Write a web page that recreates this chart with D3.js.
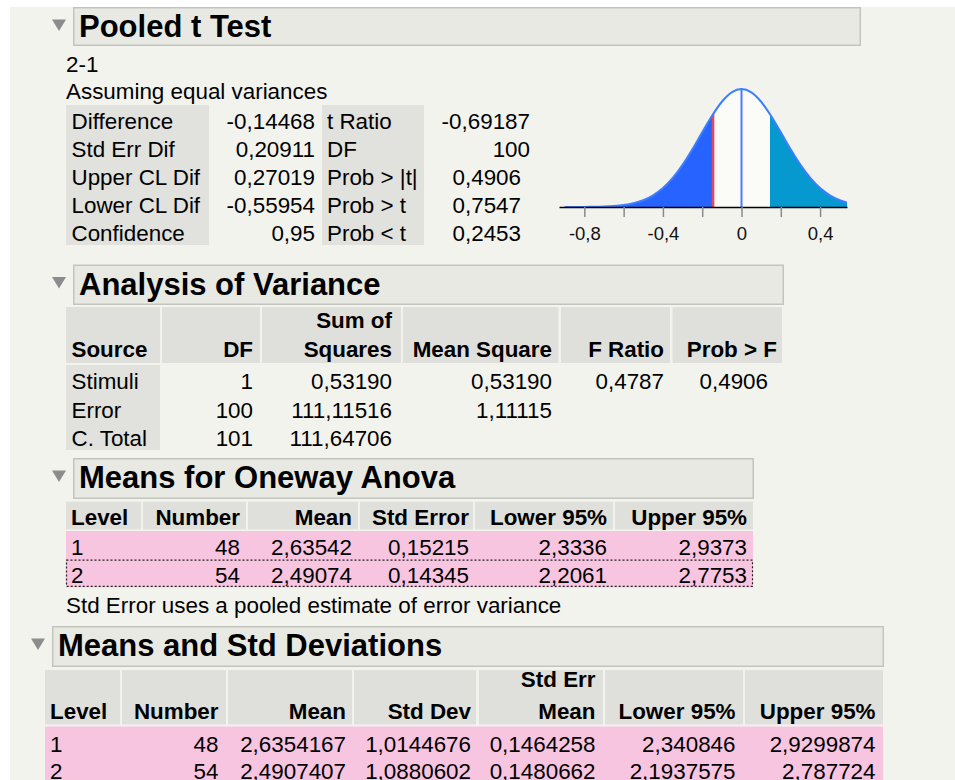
<!DOCTYPE html>
<html lang="en">
  <head>
    <meta charset="UTF-8" />
    <title>Oneway Analysis</title>
    <style>
      body { margin: 0; background: #f3f3ee; }
      svg { display: block; font-family: "Liberation Sans", Arial, Helvetica, sans-serif; }
    </style>
  </head>
  <body>
    <svg id="svg" width="955" height="780"></svg>

    <script src="https://cdn.jsdelivr.net/npm/d3@7"></script>
    <script>
      // ---- data (values as printed by JMP, comma decimals) ----
      const tTestLabels = ["Difference", "Std Err Dif", "Upper CL Dif", "Lower CL Dif", "Confidence"];
      const tTestValues = ["-0,14468", "0,20911", "0,27019", "-0,55954", "0,95"];
      const tStatLabels = ["t Ratio", "DF", "Prob > |t|", "Prob > t", "Prob < t"];
      const tStatValues = ["-0,69187", "100", "0,4906", "0,7547", "0,2453"];
      const tStatIsP = [false, false, true, true, true];
      const meanDiff = -0.14468;

      // density curve (relative height, 1 = peak)
      const densityX = [-0.9, -0.85, -0.8, -0.75, -0.7, -0.65, -0.6, -0.55, -0.5, -0.45,
        -0.4, -0.35, -0.3, -0.25, -0.2, -0.15, -0.1, -0.05, 0, 0.05,
        0.1, 0.15, 0.2, 0.25, 0.3, 0.35, 0.4, 0.45, 0.5, 0.55];
      const densityY = [0.0001, 0.0003, 0.0007, 0.0016, 0.0037, 0.008, 0.016, 0.031, 0.057, 0.099,
        0.16, 0.246, 0.357, 0.489, 0.633, 0.773, 0.892, 0.972, 1, 0.972,
        0.892, 0.773, 0.633, 0.489, 0.357, 0.246, 0.16, 0.099, 0.057, 0.031];
      const axisTicks = [-0.8, -0.6, -0.4, -0.2, 0, 0.2, 0.4];
      const axisLabels = ["-0,8", "", "-0,4", "", "0", "", "0,4"];

      const anovaColumns = ["Source", "DF", "Sum of\nSquares", "Mean Square", "F Ratio", "Prob > F"];
      const anovaRows = [
        ["Stimuli", "1", "0,53190", "0,53190", "0,4787", "0,4906"],
        ["Error", "100", "111,11516", "1,11115", "", ""],
        ["C. Total", "101", "111,64706", "", "", ""],
      ];

      const onewayColumns = ["Level", "Number", "Mean", "Std Error", "Lower 95%", "Upper 95%"];
      const onewayRows = [
        ["1", "48", "2,63542", "0,15215", "2,3336", "2,9373"],
        ["2", "54", "2,49074", "0,14345", "2,2061", "2,7753"],
      ];
      const onewayNote = "Std Error uses a pooled estimate of error variance";

      const sdColumns = ["Level", "Number", "Mean", "Std Dev", "Std Err\nMean", "Lower 95%", "Upper 95%"];
      const sdRows = [
        ["1", "48", "2,6354167", "1,0144676", "0,1464258", "2,340846", "2,9299874"],
        ["2", "54", "2,4907407", "1,0880602", "0,1480662", "2,1937575", "2,787724"],
      ];

      // ---- style ----
      const FS = 22.4;
      const P_PAD = 9;
      const GRAY_HEAD = "#dfdfdb";
      const GRAY_LABEL = "#e1e1dd";
      const PINK = "#f8c5e1";

      const svg = d3.select("#svg");
      svg.append("rect").attr("width", 955).attr("height", 780).attr("fill", "#f3f3ee");
      svg.append("rect").attr("width", 955).attr("height", 7).attr("fill", "#ffffff");
      svg.append("rect").attr("width", 10).attr("height", 780).attr("fill", "#ffffff");

      // outline headers
      const sections = [
        { title: "Pooled t Test", x0: 73, x1: 861, y0: 7, y1: 46, tx: 79, tri: 52 },
        { title: "Analysis of Variance", x0: 73, x1: 784, y0: 264.5, y1: 305, tx: 79, tri: 52 },
        { title: "Means for Oneway Anova", x0: 73, x1: 754, y0: 458, y1: 499, tx: 79, tri: 52 },
        { title: "Means and Std Deviations", x0: 52, x1: 884, y0: 626, y1: 667, tx: 58, tri: 31 },
      ];
      const secG = svg.append("g").selectAll("g").data(sections).join("g");
      secG.append("rect")
        .attr("x", (d) => d.x0 + 0.75).attr("y", (d) => d.y0 + 0.75)
        .attr("width", (d) => d.x1 - d.x0 - 1.5).attr("height", (d) => d.y1 - d.y0 - 1.5)
        .attr("fill", "#e9e9e4").attr("stroke", "#c4c4bf").attr("stroke-width", 1.5);
      secG.append("path")
        .attr("d", (d) => {
          const t = d.y0 + 12.5;
          return `M${d.tri},${t}L${d.tri + 14},${t}L${d.tri + 7},${t + 11.5}Z`;
        })
        .attr("fill", "#8c8c8c");
      secG.append("text")
        .attr("x", (d) => d.tx).attr("y", (d) => d.y0 + 30)
        .attr("font-size", 31).attr("font-weight", "bold").attr("fill", "#000")
        .text((d) => d.title);

      // ---- pooled t test block ----
      const tG = svg.append("g");
      tG.append("text").attr("x", 66).attr("y", 71.7).attr("font-size", FS).text("2-1");
      tG.append("text").attr("x", 66).attr("y", 99.3).attr("font-size", FS).text("Assuming equal variances");
      const tRow = d3.scaleBand().domain(d3.range(tTestLabels.length)).range([105, 245]);
      tG.append("rect").attr("x", 66).attr("y", 105).attr("width", 143).attr("height", 140).attr("fill", GRAY_LABEL);
      tG.append("rect").attr("x", 322).attr("y", 105).attr("width", 102).attr("height", 140).attr("fill", GRAY_LABEL);
      const tCols = [
        { vals: tTestLabels, x: 71.5, anchor: "start", p: tTestLabels.map(() => false) },
        { vals: tTestValues, x: 315, anchor: "end", p: tTestValues.map(() => false) },
        { vals: tStatLabels, x: 327, anchor: "start", p: tStatLabels.map(() => false) },
        { vals: tStatValues, x: 530, anchor: "end", p: tStatIsP },
      ];
      tCols.forEach((c) => {
        tG.append("g").selectAll("text").data(c.vals).join("text")
          .attr("x", (d, i) => c.x - (c.p[i] ? P_PAD : 0))
          .attr("y", (d, i) => tRow(i) + 24.3)
          .attr("text-anchor", c.anchor).attr("font-size", FS).text((d) => d);
      });

      // ---- density plot ----
      const x = d3.scaleLinear().domain([-0.929, 0.537]).range([559, 847]);
      const y = d3.scaleLinear().domain([0, 1]).range([207, 89]);
      const pts = densityX.map((v, i) => [v, densityY[i]]);
      const area = d3.area().x((d) => x(d[0])).y0(y(0)).y1((d) => y(d[1])).curve(d3.curveMonotoneX);
      const line = d3.line().x((d) => x(d[0])).y((d) => y(d[1])).curve(d3.curveMonotoneX);
      const defs = svg.append("defs");
      const clips = [
        { id: "cl-left", a: x.range()[0], b: x(meanDiff) },
        { id: "cl-mid", a: x(meanDiff), b: x(-meanDiff) },
        { id: "cl-right", a: x(-meanDiff), b: x.range()[1] },
        { id: "cl-all", a: x.range()[0], b: x.range()[1] },
      ];
      clips.forEach((c) => {
        defs.append("clipPath").attr("id", c.id).append("rect")
          .attr("x", c.a).attr("y", 60).attr("width", c.b - c.a).attr("height", 160);
      });
      defs.append("clipPath").attr("id", "cl-area").append("path").attr("d", area(pts));
      const pG = svg.append("g");
      const fills = [["cl-left", "#2764ff"], ["cl-mid", "#fbfbf8"], ["cl-right", "#0599cf"]];
      fills.forEach(([id, col]) => {
        pG.append("path").attr("d", area(pts)).attr("fill", col).attr("clip-path", `url(#${id})`);
      });
      const markG = pG.append("g").attr("clip-path", "url(#cl-area)");
      markG.append("line").attr("x1", x(0)).attr("x2", x(0)).attr("y1", y(0)).attr("y2", 80)
        .attr("stroke", "#4a7dff").attr("stroke-width", 2);
      markG.append("line").attr("x1", x(meanDiff)).attr("x2", x(meanDiff)).attr("y1", y(0)).attr("y2", 80)
        .attr("stroke", "#e5485c").attr("stroke-width", 2.5);
      pG.append("path").attr("d", line(pts)).attr("fill", "none")
        .attr("stroke", "#3d7eff").attr("stroke-width", 2).attr("clip-path", "url(#cl-all)");

      const axis = d3.axisBottom(x).tickValues(axisTicks)
        .tickFormat((d, i) => axisLabels[i]).tickSize(10).tickSizeOuter(0).tickPadding(10);
      const axG = svg.append("g").attr("transform", `translate(0,${y(0)})`).call(axis);
      axG.select(".domain").attr("stroke", "#000").attr("stroke-width", 1.5);
      axG.selectAll(".tick line").attr("stroke", "#8a8a8a").attr("stroke-width", 1.5);
      axG.selectAll(".tick text").attr("font-size", 18.5).attr("fill", "#111")
        .attr("font-family", '"Liberation Sans", Arial, Helvetica, sans-serif');

      // ---- generic table ----
      function drawTable(spec) {
        const g = svg.append("g");
        const n = spec.rows.length;
        const rowY = d3.scaleBand().domain(d3.range(n)).range([spec.bodyY, spec.bodyY + spec.rowH * n]);
        // header cells
        g.selectAll("rect.h").data(spec.cells).join("rect")
          .attr("x", (d) => d[0]).attr("y", spec.headY0)
          .attr("width", (d) => d[1] - d[0]).attr("height", spec.headY1 - spec.headY0)
          .attr("fill", GRAY_HEAD);
        const left = spec.cells[0][0];
        const right = spec.cells[spec.cells.length - 1][1];
        if (spec.pink) {
          g.append("rect").attr("x", left).attr("y", spec.bodyY)
            .attr("width", right - left).attr("height", spec.rowH * n).attr("fill", PINK);
        }
        if (spec.shadeFirst) {
          g.append("rect").attr("x", left).attr("y", spec.bodyY)
            .attr("width", spec.cells[0][1] - left).attr("height", spec.rowH * n).attr("fill", GRAY_LABEL);
        }
        // header text
        spec.columns.forEach((col, j) => {
          const lines = col.split("\n");
          const bases = spec.headBase.slice(spec.headBase.length - lines.length);
          lines.forEach((ln, k) => {
            g.append("text").attr("x", spec.textX[j]).attr("y", bases[k])
              .attr("text-anchor", j === 0 ? "start" : "end")
              .attr("font-size", FS).attr("font-weight", "bold").text(ln);
          });
        });
        // body text
        spec.rows.forEach((row, i) => {
          g.append("g").selectAll("text").data(row).join("text")
            .attr("x", (d, j) => spec.textX[j] - (spec.pCols.includes(j) ? P_PAD : 0))
            .attr("y", rowY(i) + spec.base)
            .attr("text-anchor", (d, j) => (j === 0 ? "start" : "end"))
            .attr("font-size", FS).text((d) => d);
        });
        return { g, rowY, left, right };
      }

      drawTable({
        columns: anovaColumns, rows: anovaRows,
        cells: [[66, 160], [162, 260], [262, 401], [403, 558.5], [561, 670], [672.5, 782]],
        textX: [71.5, 253, 392, 552, 664, 777],
        headY0: 307, headY1: 363, headBase: [328.3, 357.3],
        bodyY: 365, rowH: 28.33, base: 24.3, pCols: [5], shadeFirst: true, pink: false,
      });

      const ow = drawTable({
        columns: onewayColumns, rows: onewayRows,
        cells: [[66, 141], [143, 246], [248, 358], [360, 473], [475, 613], [615, 753]],
        textX: [71, 240, 352, 469, 607, 747],
        headY0: 501.7, headY1: 529.3, headBase: [525],
        bodyY: 531, rowH: 28.2, base: 24, pCols: [], shadeFirst: false, pink: true,
      });
      // focus outline on the second row
      ow.g.append("rect")
        .attr("x", ow.left + 0.5).attr("y", ow.rowY(1) + 1)
        .attr("width", ow.right - ow.left - 1).attr("height", ow.rowY.bandwidth() - 2)
        .attr("fill", "none").attr("stroke", "#222").attr("stroke-width", 1.2)
        .attr("stroke-dasharray", "2,2");
      svg.append("text").attr("x", 66).attr("y", 613).attr("font-size", FS).text(onewayNote);

      drawTable({
        columns: sdColumns, rows: sdRows,
        cells: [[45, 120], [122, 226], [228, 352], [354, 476], [479, 603], [605, 743], [745, 883]],
        textX: [50, 218.5, 346, 471, 595.5, 735.5, 875.5],
        headY0: 670, headY1: 724.5, headBase: [686.7, 719.3],
        bodyY: 726.5, rowH: 27, base: 25, pCols: [], shadeFirst: false, pink: true,
      });
    </script>
  </body>
</html>
